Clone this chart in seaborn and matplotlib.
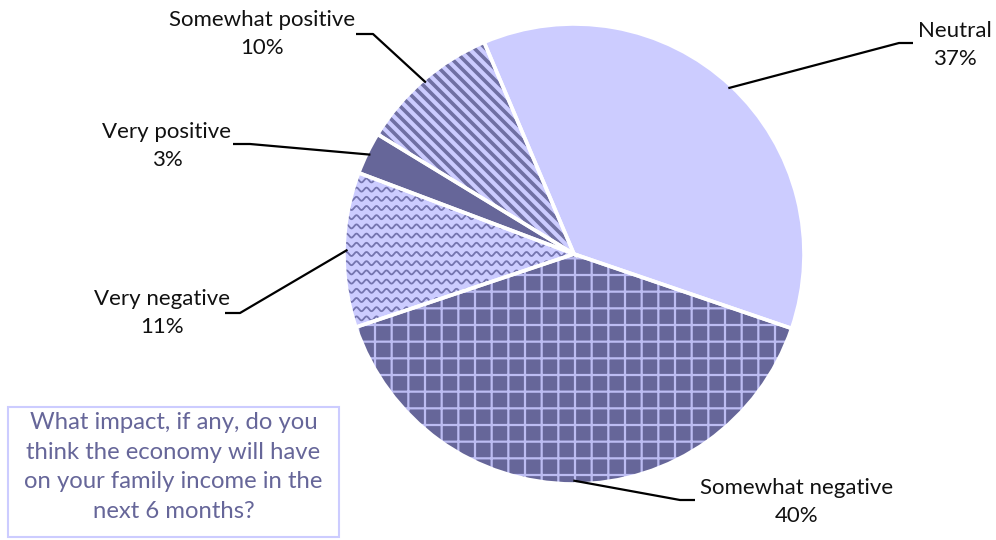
import numpy as np
import matplotlib
matplotlib.use("Agg")
import matplotlib.pyplot as plt
from matplotlib.patches import Rectangle
import seaborn as sns

# ---- data ----
categories = ["Neutral", "Somewhat negative", "Very negative", "Very positive", "Somewhat positive"]
values = [37, 40, 11, 3, 10]
pct_labels = [f"{v}%" for v in values]
question = "What impact, if any, do you\nthink the economy will have\non your family income in the\nnext 6 months?"

# ---- style ----
sns.set_theme(style="white")
plt.rcParams["font.family"] = ["Lato", "DejaVu Sans"]
plt.rcParams["hatch.linewidth"] = 1.6

LIGHT = "#CCCCFF"
DARK = "#666699"
fills = [LIGHT, DARK, LIGHT, DARK, LIGHT]
hatch_cols = [LIGHT, "#BCBCF2", LIGHT, DARK, LIGHT]
hatches = [None, "+", None, None, None]

W, H = 996, 540
cx, cy, R = 574, 254, 230  # pie centre / radius in pixels (layout)

fig = plt.figure(figsize=(W / 100, H / 100), dpi=100)
ax = fig.add_axes([0, 0, 1, 1])


def to_data(x, y):
    return ((x - cx) / R, (cy - y) / R)


wedges, _ = ax.pie(values, startangle=113, counterclock=False, colors=fills,
                   radius=1, center=(0, 0), wedgeprops=dict(linewidth=0))
for w, h, hc in zip(wedges, hatches, hatch_cols):
    w.set_edgecolor(hc)
    if h:
        w.set_hatch(h)

# diagonal stripe texture for "Somewhat positive"
sp = wedges[4]
period = 11 / R
for c in np.arange(-1.5, 1.5, period):
    xs = np.array([-1.2, 0.6])
    ln, = ax.plot(xs, c - xs, color=DARK, lw=2.6, alpha=0.9,
                  solid_capstyle="butt", zorder=sp.get_zorder() + 0.1)
    ln.set_clip_path(sp)

# wavy texture for "Very negative"
wv = wedges[2]
xs = np.linspace(-1.1, 0.1, 900)
lam, amp, gap = 10 / R, 2 / R, 9.2 / R
for y0 in np.arange(-0.6, 0.6, gap):
    ln, = ax.plot(xs, y0 + amp * np.sin(2 * np.pi * xs / lam), color="#7474AE",
                  lw=1.3, zorder=wv.get_zorder() + 0.1)
    ln.set_clip_path(wv)

# white separators
sep, _ = ax.pie(values, startangle=113, counterclock=False, colors=["none"] * len(values),
                radius=1, center=(0, 0),
                wedgeprops=dict(linewidth=2.6, edgecolor="white", fill=False))
for s in sep:
    s.set_zorder(5)

# ---- leader lines and labels (layout positions in pixels) ----
elbows = [(899, 43), (680, 500), (240, 313), (250, 144), (373, 34)]
ends = [(913, 43), (695, 500), (225, 313), (233, 144), (356, 34)]
text_pos = [(955, 45), (797, 502), (162, 313), (167, 146), (262, 34)]

for w, cat, pct, el, en, tp in zip(wedges, categories, pct_labels, elbows, ends, text_pos):
    th = np.deg2rad((w.theta1 + w.theta2) / 2)
    sx, sy = 0.985 * np.cos(th), 0.985 * np.sin(th)
    ex, ey = to_data(*el)
    nx, ny = to_data(*en)
    ax.plot([sx, ex, nx], [sy, ey, ny], color="black", lw=1.6, zorder=6,
            solid_capstyle="butt")
    tx, ty = to_data(*tp)
    ax.text(tx, ty, f"{cat}\n{pct}", ha="center", va="center", fontsize=16,
            linespacing=1.52, color="#111111", zorder=7)

ax.set_xlim(-cx / R, (W - cx) / R)
ax.set_ylim(-(H - cy) / R, cy / R)
ax.set_aspect("equal")
ax.axis("off")

# ---- question box ----
fig.patches.append(Rectangle((8 / W, (H - 537) / H), 331 / W, 130 / H,
                             transform=fig.transFigure, fill=False,
                             edgecolor=LIGHT, lw=1.5))
fig.text(173.5 / W, (H - 467) / H, question, ha="center", va="center",
         fontsize=17.2, color=DARK, linespacing=1.5)

fig.savefig("out.png", dpi=100, facecolor="white")
